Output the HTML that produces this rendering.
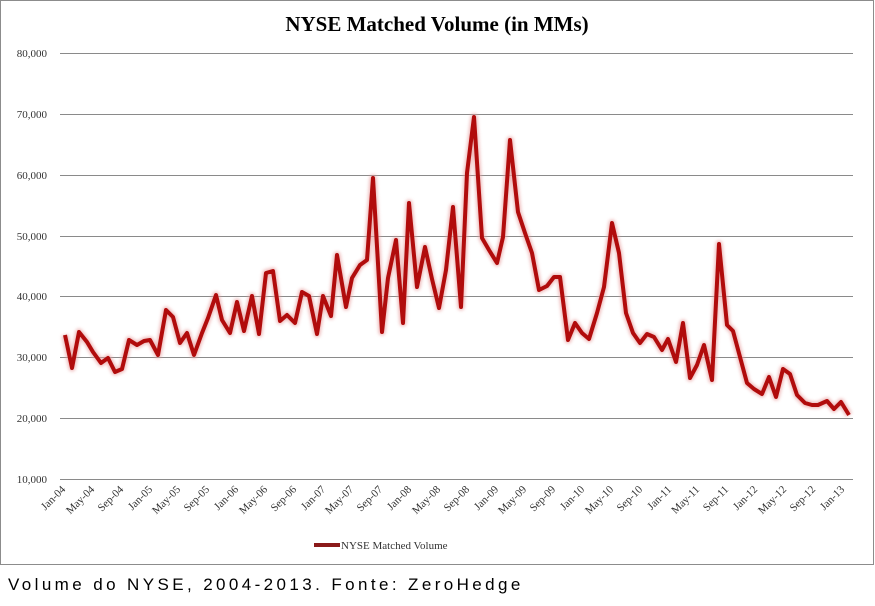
<!DOCTYPE html>
<html><head><meta charset="utf-8"><style>
html,body{margin:0;padding:0;background:#fff;width:875px;height:606px;overflow:hidden}
</style></head><body>
<svg width="875" height="606" xmlns="http://www.w3.org/2000/svg" style="position:absolute;left:0;top:0">
<defs><filter id="sh" x="-5%" y="-5%" width="110%" height="110%"><feGaussianBlur stdDeviation="1.5"/></filter></defs>
<rect x="0.5" y="0.5" width="873" height="564" fill="#fff" stroke="#8c8c8c"/>
<text x="437" y="31" text-anchor="middle" font-family="Liberation Serif, serif" font-weight="bold" font-size="21" fill="#000">NYSE Matched Volume (in MMs)</text>
<g stroke="#8a8a8a" stroke-width="1">
<line x1="60" x2="853" y1="53.5" y2="53.5"/><line x1="60" x2="853" y1="114.5" y2="114.5"/>
<line x1="60" x2="853" y1="175.5" y2="175.5"/><line x1="60" x2="853" y1="236.5" y2="236.5"/>
<line x1="60" x2="853" y1="296.5" y2="296.5"/><line x1="60" x2="853" y1="357.5" y2="357.5"/>
<line x1="60" x2="853" y1="418.5" y2="418.5"/><line x1="60" x2="853" y1="479.5" y2="479.5"/>
</g>
<g font-family="Liberation Serif, serif" font-size="11" fill="#333" text-anchor="end">
<text x="47" y="57">80,000</text><text x="47" y="118">70,000</text><text x="47" y="179">60,000</text>
<text x="47" y="240">50,000</text><text x="47" y="300">40,000</text><text x="47" y="361">30,000</text>
<text x="47" y="422">20,000</text><text x="47" y="483">10,000</text>
</g>
<g id="line">
<polyline fill="none" stroke="#e8a0a0" stroke-width="7" stroke-linejoin="round" filter="url(#sh)" opacity="0.7" points="65,335 72,368 79,332 87,342 93,352 101,363 108,358 115,372 122,369 129,340 137,345 144,341 150,340 158,355 166,310 173,317 180,343 187,333 194,355 202,333 208,318 216,295 222,320 230,333 237,302 244,331 252,296 259,334 266,273 273,271 280,321 287,315 295,323 302,292 309,296 317,334 323,296 331,316 337,255 346,307 352,278 360,265 367,260 373,178 382,332 388,278 396,240 403,323 409,203 417,287 425,247 432,279 439,308 446,270 453,207 461,307 467,173 474,117 482,238 489,250 497,263 503,237 510,140 518,212 525,233 532,253 539,290 547,286 554,277 560,277 568,340 575,323 582,333 589,339 597,313 604,287 612,223 619,253 626,313 633,333 640,343 647,334 654,337 662,350 668,339 676,362 683,323 690,378 697,365 704,345 712,380 719,244 727,325 733,331 740,357 747,383 754,389 762,394 769,377 776,397 783,369 790,374 797,395 805,403 812,405 818,405 827,401 834,409 841,402 849,415"/>
<polyline fill="none" stroke="#b10c0c" stroke-width="4" stroke-linejoin="round" points="65,335 72,368 79,332 87,342 93,352 101,363 108,358 115,372 122,369 129,340 137,345 144,341 150,340 158,355 166,310 173,317 180,343 187,333 194,355 202,333 208,318 216,295 222,320 230,333 237,302 244,331 252,296 259,334 266,273 273,271 280,321 287,315 295,323 302,292 309,296 317,334 323,296 331,316 337,255 346,307 352,278 360,265 367,260 373,178 382,332 388,278 396,240 403,323 409,203 417,287 425,247 432,279 439,308 446,270 453,207 461,307 467,173 474,117 482,238 489,250 497,263 503,237 510,140 518,212 525,233 532,253 539,290 547,286 554,277 560,277 568,340 575,323 582,333 589,339 597,313 604,287 612,223 619,253 626,313 633,333 640,343 647,334 654,337 662,350 668,339 676,362 683,323 690,378 697,365 704,345 712,380 719,244 727,325 733,331 740,357 747,383 754,389 762,394 769,377 776,397 783,369 790,374 797,395 805,403 812,405 818,405 827,401 834,409 841,402 849,415"/>
</g>
<g font-family="Liberation Serif, serif" font-size="11" fill="#333" text-anchor="end">
<text transform="translate(66,490) rotate(-45)">Jan-04</text>
<text transform="translate(95,490) rotate(-45)">May-04</text>
<text transform="translate(124,490) rotate(-45)">Sep-04</text>
<text transform="translate(153,490) rotate(-45)">Jan-05</text>
<text transform="translate(181,490) rotate(-45)">May-05</text>
<text transform="translate(210,490) rotate(-45)">Sep-05</text>
<text transform="translate(239,490) rotate(-45)">Jan-06</text>
<text transform="translate(268,490) rotate(-45)">May-06</text>
<text transform="translate(297,490) rotate(-45)">Sep-06</text>
<text transform="translate(326,490) rotate(-45)">Jan-07</text>
<text transform="translate(354,490) rotate(-45)">May-07</text>
<text transform="translate(383,490) rotate(-45)">Sep-07</text>
<text transform="translate(412,490) rotate(-45)">Jan-08</text>
<text transform="translate(441,490) rotate(-45)">May-08</text>
<text transform="translate(470,490) rotate(-45)">Sep-08</text>
<text transform="translate(499,490) rotate(-45)">Jan-09</text>
<text transform="translate(527,490) rotate(-45)">May-09</text>
<text transform="translate(556,490) rotate(-45)">Sep-09</text>
<text transform="translate(585,490) rotate(-45)">Jan-10</text>
<text transform="translate(614,490) rotate(-45)">May-10</text>
<text transform="translate(643,490) rotate(-45)">Sep-10</text>
<text transform="translate(672,490) rotate(-45)">Jan-11</text>
<text transform="translate(700,490) rotate(-45)">May-11</text>
<text transform="translate(729,490) rotate(-45)">Sep-11</text>
<text transform="translate(758,490) rotate(-45)">Jan-12</text>
<text transform="translate(787,490) rotate(-45)">May-12</text>
<text transform="translate(816,490) rotate(-45)">Sep-12</text>
<text transform="translate(845,490) rotate(-45)">Jan-13</text>
</g>
<line x1="314" x2="340" y1="545" y2="545" stroke="#8b1a1a" stroke-width="4"/>
<text x="341" y="549" font-family="Liberation Serif, serif" font-size="11" fill="#333">NYSE Matched Volume</text>
<text x="8" y="590" font-family="Liberation Sans, sans-serif" font-size="17" letter-spacing="3.4" fill="#000">Volume do NYSE, 2004-2013. Fonte: ZeroHedge</text>
</svg>
</body></html>
